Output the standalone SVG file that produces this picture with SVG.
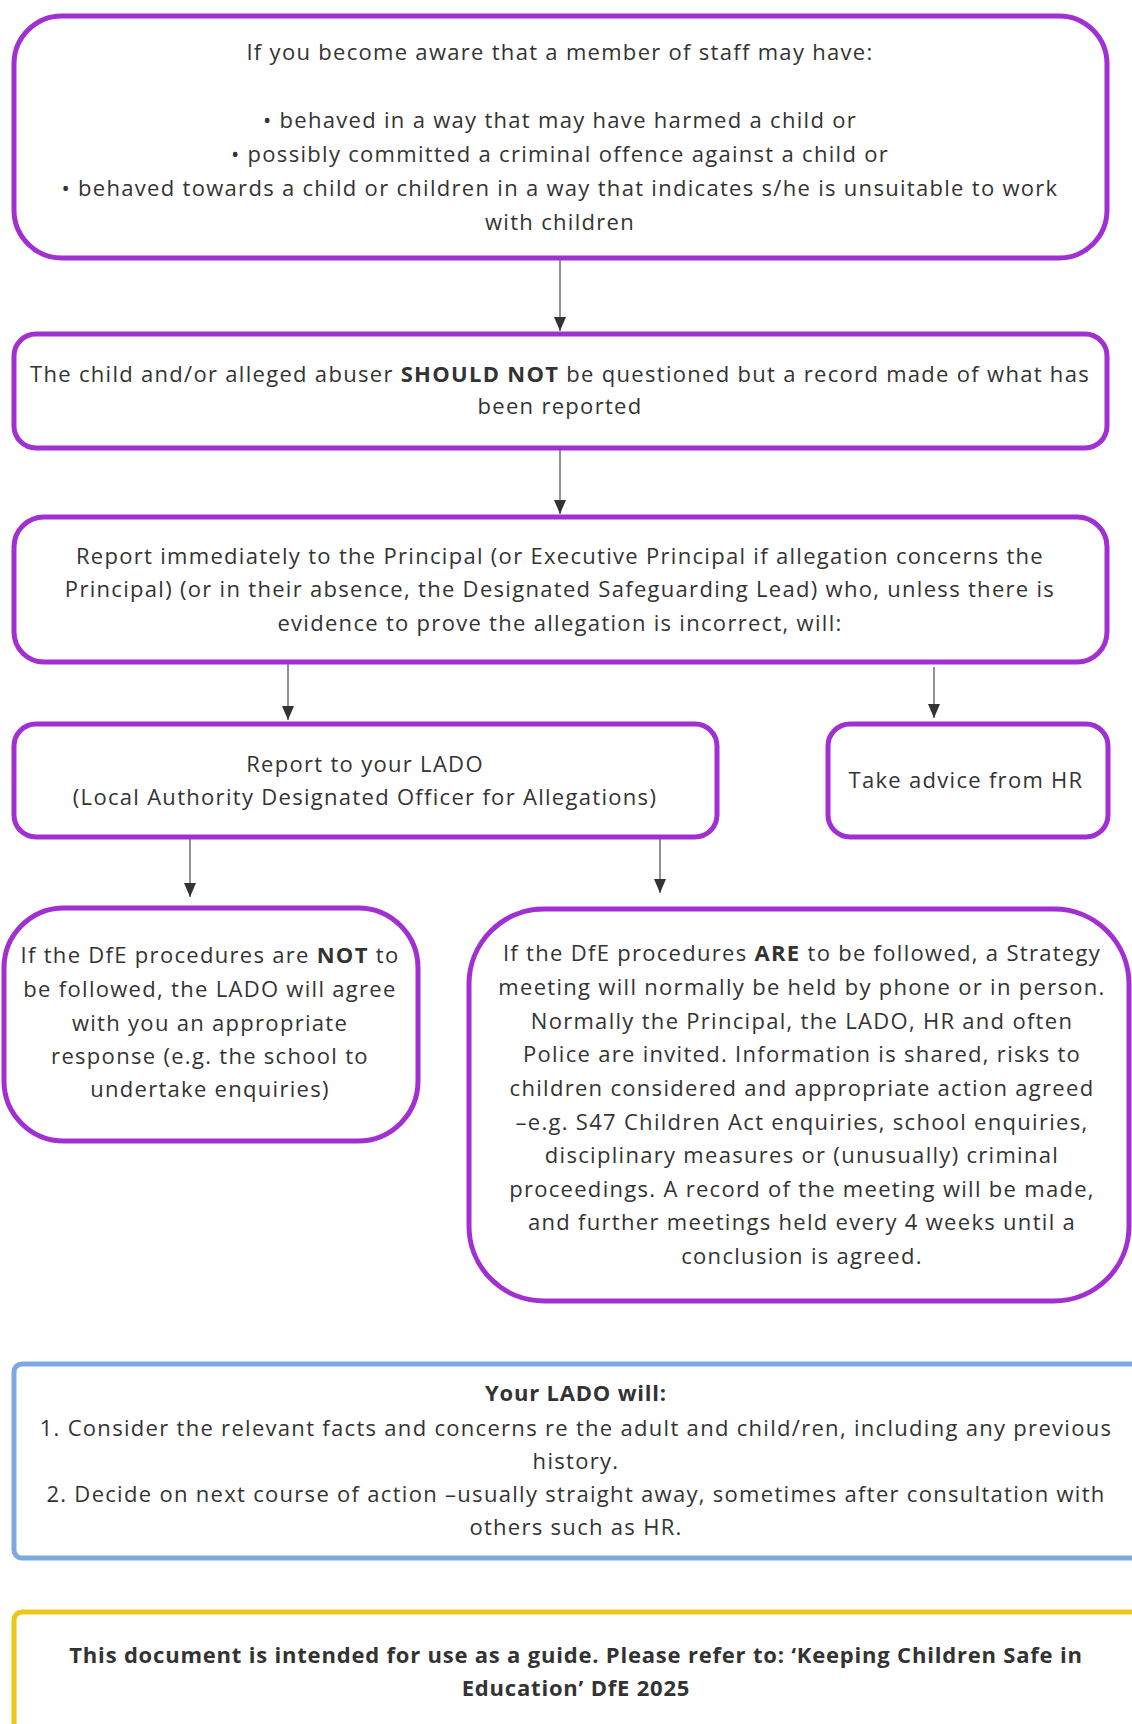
<svg xmlns="http://www.w3.org/2000/svg" width="1132" height="1724" viewBox="0 0 1132 1724">
<defs>
<style>
.box{fill:#fff;stroke:#a22fd2;stroke-width:5}
.blue{fill:#fff;stroke:#7ea8e2;stroke-width:5}
.yel{fill:#fff;stroke:#eac81a;stroke-width:5}
text{font-family:"Open Sans","Noto Sans",sans-serif;font-size:22px;letter-spacing:1.3px;fill:#333;text-anchor:middle}
.b{font-weight:700}
text.b{letter-spacing:0.8px}
.conn{stroke:#777;stroke-width:1.6;fill:none;marker-end:url(#ah)}
</style>
<marker id="ah" markerUnits="userSpaceOnUse" markerWidth="14" markerHeight="12" refX="14" refY="6" orient="auto" viewBox="0 0 14 12">
<path d="M0,0 L14,6 L0,12 z" fill="#333"/>
</marker>
</defs>
<rect width="1132" height="1724" fill="#fff"/>

<g id="connectors">
<line class="conn" x1="560" y1="259" x2="560" y2="331"/>
<line class="conn" x1="560" y1="450" x2="560" y2="514"/>
<line class="conn" x1="288" y1="663" x2="288" y2="720"/>
<line class="conn" x1="934" y1="667" x2="934" y2="718"/>
<line class="conn" x1="190" y1="839" x2="190" y2="897"/>
<line class="conn" x1="660" y1="839" x2="660" y2="893"/>
</g>

<g id="n1">
<rect class="box" x="14" y="16" width="1093" height="242" rx="48"/>
<text x="560" y="60">If you become aware that a member of staff may have:</text>
<text x="560" y="128">• behaved in a way that may have harmed a child or</text>
<text x="560" y="162">• possibly committed a criminal offence against a child or</text>
<text x="560" y="196">• behaved towards a child or children in a way that indicates s/he is unsuitable to work</text>
<text x="560" y="230">with children</text>
</g>

<g id="n2">
<rect class="box" x="14" y="334" width="1093" height="114" rx="22"/>
<text x="560" y="382">The child and/or alleged abuser <tspan class="b">SHOULD NOT</tspan> be questioned but a record made of what has</text>
<text x="560" y="414">been reported</text>
</g>

<g id="n3">
<rect class="box" x="14" y="517" width="1093" height="145" rx="30"/>
<text x="560" y="564">Report immediately to the Principal (or Executive Principal if allegation concerns the</text>
<text x="560" y="597">Principal) (or in their absence, the Designated Safeguarding Lead) who, unless there is</text>
<text x="560" y="631">evidence to prove the allegation is incorrect, will:</text>
</g>

<g id="n4">
<rect class="box" x="14" y="724" width="703" height="113" rx="22"/>
<text x="365" y="772">Report to your LADO</text>
<text x="365" y="805">(Local Authority Designated Officer for Allegations)</text>
</g>

<g id="n5">
<rect class="box" x="828" y="724" width="280" height="113" rx="22"/>
<text x="966" y="788">Take advice from HR</text>
</g>

<g id="n6">
<rect class="box" x="4" y="908" width="414" height="233" rx="60"/>
<text x="210" y="963">If the DfE procedures are <tspan class="b">NOT</tspan> to</text>
<text x="210" y="997">be followed, the LADO will agree</text>
<text x="210" y="1031">with you an appropriate</text>
<text x="210" y="1064">response (e.g. the school to</text>
<text x="210" y="1097">undertake enquiries)</text>
</g>

<g id="n7">
<rect class="box" x="469" y="909" width="660" height="392" rx="75"/>
<text x="802" y="961">If the DfE procedures <tspan class="b">ARE</tspan> to be followed, a Strategy</text>
<text x="802" y="995">meeting will normally be held by phone or in person.</text>
<text x="802" y="1029">Normally the Principal, the LADO, HR and often</text>
<text x="802" y="1062">Police are invited. Information is shared, risks to</text>
<text x="802" y="1096">children considered and appropriate action agreed</text>
<text x="802" y="1130">–e.g. S47 Children Act enquiries, school enquiries,</text>
<text x="802" y="1163">disciplinary measures or (unusually) criminal</text>
<text x="802" y="1197">proceedings. A record of the meeting will be made,</text>
<text x="802" y="1230">and further meetings held every 4 weeks until a</text>
<text x="802" y="1264">conclusion is agreed.</text>
</g>

<g id="n8">
<rect class="blue" x="14" y="1364" width="1130" height="194" rx="8"/>
<text class="b" x="576" y="1401">Your LADO will:</text>
<text x="576" y="1436">1. Consider the relevant facts and concerns re the adult and child/ren, including any previous</text>
<text x="576" y="1469">history.</text>
<text x="576" y="1502">2. Decide on next course of action –usually straight away, sometimes after consultation with</text>
<text x="576" y="1535">others such as HR.</text>
</g>

<g id="n9">
<rect class="yel" x="14" y="1612" width="1130" height="130" rx="8"/>
<text class="b" x="576" y="1663">This document is intended for use as a guide. Please refer to: ‘Keeping Children Safe in</text>
<text class="b" x="576" y="1696">Education’ DfE 2025</text>
</g>
</svg>
